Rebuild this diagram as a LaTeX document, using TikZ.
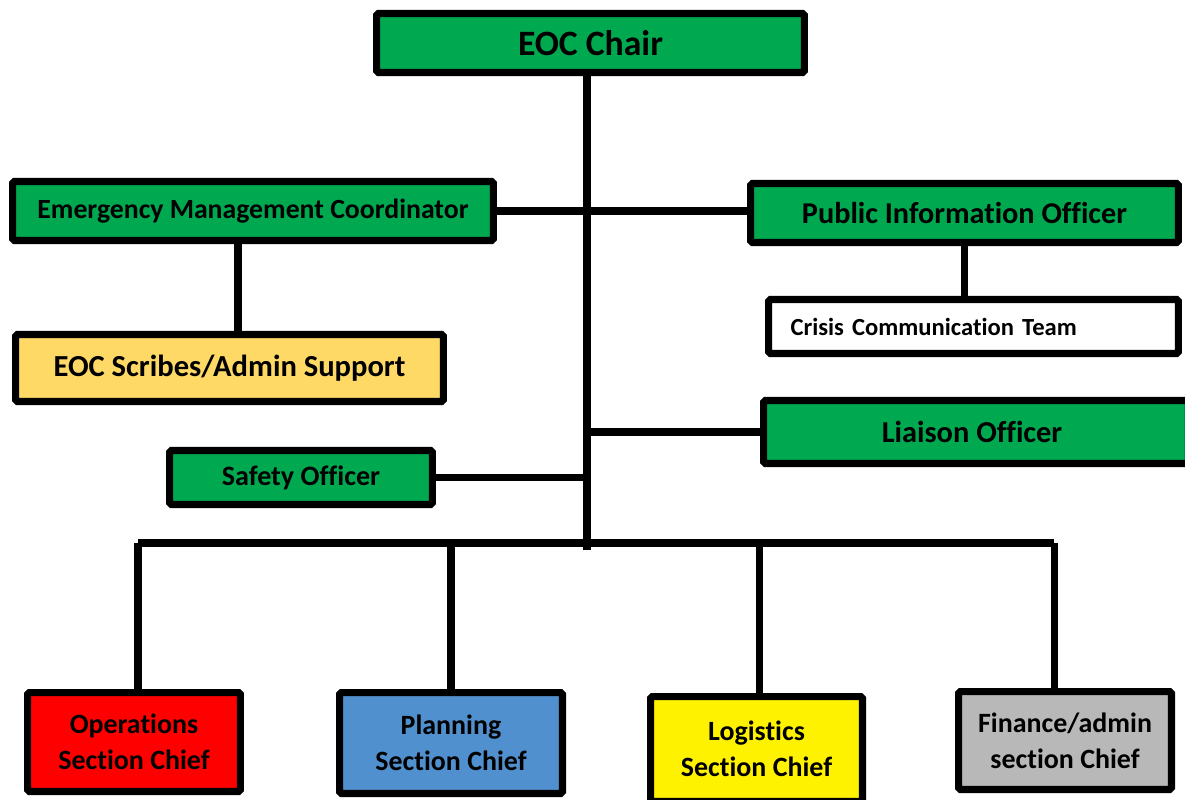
\documentclass[tikz,border=0pt]{standalone}
\usepackage{fontspec}
\setmainfont{Carlito}[Ligatures=NoCommon]
\usepackage{tikz}
\usetikzlibrary{arrows,positioning}
\definecolor{eocgreen}{HTML}{00A84F}
\definecolor{eocorange}{HTML}{FFD966}
\definecolor{eocblue}{HTML}{5090CE}
\definecolor{eocgray}{HTML}{B8B8B8}

\begin{document}
\begin{tikzpicture}[x=0.02cm,y=-0.02cm,
  box/.style={draw=black,line width=4pt,rounded corners=1pt,font=\bfseries,inner sep=0pt,align=center},
  chief/.style={box,font=\bfseries\fontsize{15.9}{20.5}\selectfont},
  link/.style={line width=4pt}]
\useasboundingbox (0,0) rectangle (1185,800);
\node[box,fill=eocgreen,minimum width=8.56cm,minimum height=1.18cm,font=\bfseries\fontsize{20.3}{24}\selectfont] (chair) at (590.5,43) {EOC Chair};
\node[box,fill=eocgreen,minimum width=9.62cm,minimum height=1.18cm,font=\bfseries\fontsize{15.8}{19}\selectfont] (emc) at (253,211) {Emergency Management Coordinator};
\node[box,fill=eocgreen,minimum width=8.56cm,minimum height=1.18cm,font=\bfseries\fontsize{17.2}{20}\selectfont] (pio) at (964.5,213) {Public Information Officer};
\node[box,fill=white,text width=7.32cm,inner xsep=0.44cm,minimum height=1.08cm,align=left,font=\bfseries\fontsize{14}{17}\selectfont] (crisis) at (973.5,326.5) {Crisis Communication Team};
\node[box,fill=eocorange,minimum width=8.56cm,minimum height=1.34cm,font=\bfseries\fontsize{17.4}{20}\selectfont] (scribes) at (229.5,368) {EOC Scribes/Admin Support};
\node[box,fill=eocgreen,minimum width=8.5cm,minimum height=1.26cm,font=\bfseries\fontsize{17.3}{20}\selectfont] (liaison) at (976,432) {\hspace*{-0.16cm}Liaison Officer};
\node[box,fill=eocgreen,minimum width=5.26cm,minimum height=1.08cm,font=\bfseries\fontsize{16}{19}\selectfont] (safety) at (301,477.5) {Safety Officer};
\node[chief,fill=red,minimum width=4.26cm,minimum height=1.98cm] (ops) at (134,742) {Operations\\Section Chief};
\node[chief,fill=eocblue,minimum width=4.46cm,minimum height=2.02cm] (plan) at (451,743) {Planning\\Section Chief};
\node[chief,fill=yellow,minimum width=4.24cm,minimum height=2.1cm] (logi) at (756.5,749) {Logistics\\Section Chief};
\node[chief,fill=eocgray,minimum width=4.26cm,minimum height=1.96cm] (fin) at (1065,740.5) {Finance/admin\\section Chief};
\coordinate (trunk) at (587,550);
\coordinate (bus) at (587,543);
\draw[link] (chair.south -| trunk) -- (trunk);
\draw[link] (emc.east) -- (emc.east -| pio.west);
\draw[link] ([xshift=0.17cm]scribes.north) -- ([xshift=0.17cm]scribes.north |- emc.south);
\draw[link] (pio.south) -- (pio.south |- crisis.north);
\draw[link] (liaison.west) -- (liaison.west -| trunk);
\draw[link] (safety.east) -- (safety.east -| trunk);
\draw[link] ([xshift=0.08cm]ops.north |- bus) -- ([xshift=-0.22cm]fin.north |- bus);
\draw[link] ([xshift=0.08cm]ops.north) -- ([xshift=0.08cm]ops.north |- bus);
\draw[link] (plan.north) -- (plan.north |- bus);
\draw[link] ([xshift=0.05cm]logi.north) -- ([xshift=0.05cm]logi.north |- bus);
\draw[link] ([xshift=-0.22cm]fin.north) -- ([xshift=-0.22cm]fin.north |- bus);
\end{tikzpicture}
\end{document}
